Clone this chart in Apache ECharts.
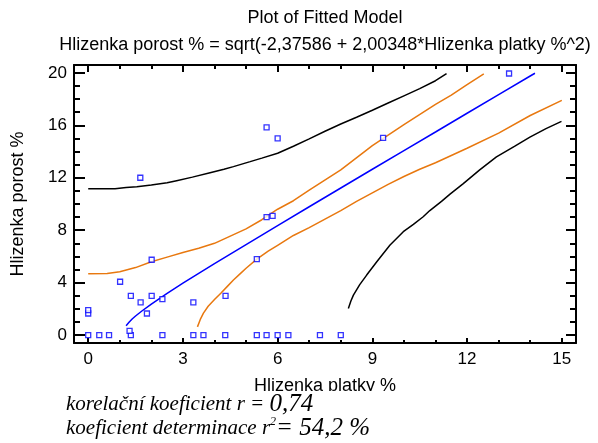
<!DOCTYPE html>
<html>
<head>
<meta charset="utf-8">
<script src="https://cdn.jsdelivr.net/npm/echarts@6/dist/echarts.min.js"></script>
<style>
html,body{margin:0;padding:0;background:#fff;}
#c{width:598px;height:443px;}
</style>
</head>
<body>
<div id="c"></div>
<script>
// ---- data ----
var titleText = 'Plot of Fitted Model';
var subtitleText = 'Hlizenka porost % = sqrt(-2,37586 + 2,00348*Hlizenka platky %^2)';
var xName = 'Hlizenka platky %';
var yName = 'Hlizenka porost %';
var xTicks = [0, 3, 6, 9, 12, 15];
var xMinorTicks = [0, 1, 2, 3, 4, 5, 6, 7, 8, 9, 10, 11, 12, 13, 14, 15];
var yTicks = [0, 4, 8, 12, 16, 20];
var yMinorTicks = [0, 1, 2, 3, 4, 5, 6, 7, 8, 9, 10, 11, 12, 13, 14, 15, 16, 17, 18, 19, 20];

var observed = [
  [0, 0], [0.35, 0], [0.66, 0], [1.35, 0], [2.35, 0], [3.33, 0], [3.65, 0], [4.34, 0],
  [5.34, 0], [5.65, 0], [6.0, 0], [6.34, 0], [7.34, 0], [8.0, 0],
  [0, 1.65], [0, 1.91], [1.31, 0.33], [1.86, 1.65], [1.01, 4.07], [1.35, 3.0],
  [1.66, 2.5], [2.01, 3.0], [2.35, 2.75], [2.01, 5.75], [3.33, 2.5], [4.35, 3.0],
  [5.34, 5.8], [5.65, 9.0], [5.84, 9.1], [1.65, 12.0], [5.65, 15.85], [6.0, 15.0],
  [9.34, 15.05], [13.33, 19.95]
];

var fitted = [
  [1.2, 0.71], [1.3, 1.0], [1.4, 1.25], [1.5, 1.46], [1.7, 1.84], [2, 2.37], [2.5, 3.19],
  [3, 3.96], [3.5, 4.71], [4, 5.45], [4.5, 6.18], [5, 6.91], [5.5, 7.63], [6, 8.35],
  [7, 9.79], [8, 11.22], [9, 12.65], [10, 14.07], [11, 15.49], [12, 16.92], [13, 18.34],
  [14, 19.76], [14.15, 19.97]
];

var upperConf = [
  [0, 4.68], [0.6, 4.7], [1, 4.83], [1.5, 5.15], [2, 5.6], [2.5, 5.95], [3, 6.3],
  [3.5, 6.62], [4, 7.0], [4.5, 7.55], [5, 8.1], [5.5, 8.8], [6, 9.6], [6.5, 10.25],
  [7, 11.05], [8, 12.6], [9, 14.45], [10, 16.05], [11, 17.6], [11.5, 18.3], [12, 19.1],
  [12.53, 19.92]
];

var lowerConf = [
  [3.46, 0.63], [3.55, 1.2], [3.65, 1.68], [3.8, 2.2], [4.0, 2.72], [4.2, 3.2], [4.4, 3.7],
  [4.6, 4.2], [4.8, 4.65], [5.0, 5.1], [5.34, 5.8], [5.7, 6.4], [6, 6.85], [6.5, 7.6],
  [7, 8.2], [7.5, 8.85], [8, 9.5], [8.5, 10.2], [9, 10.85], [9.5, 11.5], [10, 12.1],
  [10.5, 12.65], [11, 13.15], [11.5, 13.7], [12, 14.25], [13, 15.4], [14, 16.75], [15, 17.9]
];

var upperPred = [
  [0, 11.17], [0.85, 11.17], [1.2, 11.25], [1.54, 11.32], [2, 11.45], [2.5, 11.62],
  [2.8, 11.78], [3.3, 12.05], [3.86, 12.39], [4.3, 12.65], [4.6, 12.85], [5.13, 13.23],
  [5.5, 13.5], [6, 13.87], [6.5, 14.4], [7, 14.97], [7.5, 15.55], [8, 16.1], [8.5, 16.62],
  [9, 17.15], [9.5, 17.7], [10, 18.25], [10.5, 18.8], [11, 19.4], [11.35, 19.95]
];

var lowerPred = [
  [8.24, 2.04], [8.32, 2.6], [8.4, 3.05], [8.6, 3.85], [8.82, 4.58], [9.14, 5.6],
  [9.56, 6.87], [9.98, 7.89], [10.3, 8.45], [10.61, 9.03], [10.82, 9.5], [11.19, 10.2],
  [11.46, 10.75], [11.88, 11.55], [12.4, 12.6], [12.93, 13.6], [13.5, 14.4],
  [13.99, 15.1], [14.5, 15.75], [14.99, 16.3]
];

var statLine1 = ['korelační koeficient r = ', '0,74'];
var statLine2 = ['koeficient determinace r', '2', '= 54,2 %'];

// ---- chart ----
var chart = echarts.init(document.getElementById('c'), null, {renderer: 'canvas'});
var XMIN = -0.45, XMAX = 15.45, YMIN = -0.6, YMAX = 20.6;
var black = '#000000';
var sans = 'Arial, "Liberation Sans", sans-serif';
var serif = '"Times New Roman", "Liberation Serif", serif';
var plotCenter = 74 + (598 - 74 - 22) / 2;

function xAx(pos, ticks, len, showLine, showLabel, extra) {
  var a = {
    type: 'value', position: pos, min: XMIN, max: XMAX,
    axisLine: {show: showLine, onZero: false, lineStyle: {color: black, width: 2}},
    axisTick: {show: true, inside: true, length: len, customValues: ticks, lineStyle: {color: black, width: 2}},
    axisLabel: {show: showLabel, customValues: ticks, color: black, fontSize: 17, fontFamily: sans, margin: 8},
    splitLine: {show: false}
  };
  return Object.assign(a, extra || {});
}
function yAx(pos, ticks, len, showLine, showLabel, extra) {
  var a = {
    type: 'value', position: pos, min: YMIN, max: YMAX,
    axisLine: {show: showLine, onZero: false, lineStyle: {color: black, width: 2}},
    axisTick: {show: true, inside: true, length: len, customValues: ticks, lineStyle: {color: black, width: 2}},
    axisLabel: {show: showLabel, customValues: ticks, color: black, fontSize: 17, fontFamily: sans, margin: 7},
    splitLine: {show: false}
  };
  return Object.assign(a, extra || {});
}

var lineBase = {type: 'line', showSymbol: false, symbol: 'none', smooth: false, animation: false, silent: true};

var option = {
  animation: false,
  backgroundColor: '#ffffff',
  grid: {left: 74, right: 22, top: 65, bottom: 100, containLabel: false},
  xAxis: [
    xAx('bottom', xTicks, 5, true, true, {
      name: xName, nameLocation: 'middle', nameGap: 34,
      nameTextStyle: {color: black, fontSize: 18, fontFamily: sans}
    }),
    xAx('bottom', xMinorTicks, 3, false, false),
    xAx('top', xTicks, 7, true, false),
    xAx('top', xMinorTicks, 4, false, false)
  ],
  yAxis: [
    yAx('left', yTicks, 11, true, true, {
      name: yName, nameLocation: 'middle', nameGap: 47, nameRotate: 90,
      nameTextStyle: {color: black, fontSize: 18, fontFamily: sans}
    }),
    yAx('left', yMinorTicks, 6, false, false),
    yAx('right', yTicks, 10, true, false),
    yAx('right', yMinorTicks, 6, false, false)
  ],
  series: [
    Object.assign({}, lineBase, {name: 'upperPred', data: upperPred, lineStyle: {color: black, width: 1.5}}),
    Object.assign({}, lineBase, {name: 'lowerPred', data: lowerPred, lineStyle: {color: black, width: 1.5}}),
    Object.assign({}, lineBase, {name: 'upperConf', data: upperConf, lineStyle: {color: '#E8780F', width: 1.5}}),
    Object.assign({}, lineBase, {name: 'lowerConf', data: lowerConf, lineStyle: {color: '#E8780F', width: 1.5}}),
    Object.assign({}, lineBase, {name: 'fitted', data: fitted, lineStyle: {color: '#0000FF', width: 1.5}}),
    {
      type: 'scatter', name: 'observed', data: observed, symbol: 'rect', symbolSize: 5,
      itemStyle: {color: '#ffffff', borderColor: '#0000FF', borderWidth: 1.3},
      z: 5, animation: false
    }
  ],
  graphic: [
    {type: 'text', x: plotCenter, y: 9, style: {text: titleText, font: '18px ' + sans, fill: black, textAlign: 'center'}},
    {type: 'text', x: plotCenter, y: 36, style: {text: subtitleText, font: '18px ' + sans, fill: black, textAlign: 'center'}},
    {type: 'rect', z: 100, shape: {x: 0, y: 391, width: 598, height: 52}, style: {fill: '#ffffff'}},
    {
      type: 'text', z: 101, x: 66, y: 392,
      style: {
        text: '{a|' + statLine1[0] + '}{b|' + statLine1[1] + '}',
        rich: {
          a: {fontFamily: serif, fontStyle: 'italic', fontSize: 21, fill: black, color: black},
          b: {fontFamily: serif, fontStyle: 'italic', fontSize: 25, fill: black, color: black}
        }
      }
    },
    {
      type: 'text', z: 101, x: 66, y: 416,
      style: {
        text: '{a|' + statLine2[0] + '}{s|' + statLine2[1] + '}{b|' + statLine2[2] + '}',
        rich: {
          a: {fontFamily: serif, fontStyle: 'italic', fontSize: 21, fill: black, color: black},
          s: {fontFamily: serif, fontStyle: 'italic', fontSize: 12, verticalAlign: 'top', fill: black, color: black},
          b: {fontFamily: serif, fontStyle: 'italic', fontSize: 25, fill: black, color: black}
        }
      }
    }
  ]
};
chart.setOption(option);
</script>
</body>
</html>
